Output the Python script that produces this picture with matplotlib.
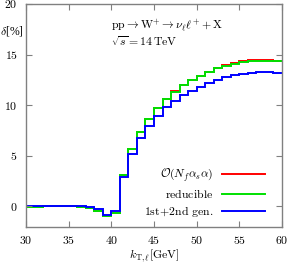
import numpy as np
from matplotlib import pyplot as plt

plt.rcParams['mathtext.fontset'] = 'cm'
plt.rcParams['font.family'] = 'serif'
plt.rcParams['font.serif'] = ['Liberation Serif', 'DejaVu Serif']

# bin edges (GeV) and corrections delta [%]
edges = np.arange(30, 61, 1)
red_vals = [-0.05, -0.03, 0.0, 0.02, 0.02, 0.0, -0.05, -0.2, -0.4, -0.95, -0.6,
            3.12, 5.70, 7.38, 8.66, 9.72, 10.62, 11.38, 11.97, 12.47, 12.92,
            13.32, 13.67, 13.94, 14.15, 14.32, 14.42, 14.44, 14.42, 14.39]
green_vals = [-0.05, -0.03, 0.0, 0.02, 0.02, 0.0, -0.05, -0.2, -0.4, -0.95, -0.6,
              3.1, 5.63, 7.32, 8.62, 9.7, 10.6, 11.35, 11.95, 12.45, 12.9,
              13.3, 13.65, 13.92, 14.12, 14.27, 14.37, 14.4, 14.4, 14.37]
blue_vals = [0.0, 0.02, 0.05, 0.06, 0.06, 0.05, 0.02, -0.1, -0.3, -0.88, -0.49,
             2.93, 5.17, 6.75, 7.9, 8.95, 9.81, 10.43, 11.0, 11.45, 11.85,
             12.2, 12.5, 12.77, 12.97, 13.1, 13.2, 13.27, 13.27, 13.23]
labels = [r'$\mathcal{O}(N_f\alpha_s\alpha)$', r'$\mathrm{reducible}$',
          r'$\mathrm{1st\!+\!2nd\ gen.}$']

fig = plt.figure(figsize=(2.89, 2.66), dpi=100)
ax = fig.add_axes([26/289, 1-226.7/266, 256/289, 222.7/266])

ax.stairs(red_vals, edges, color='#ff0000', lw=1.4, baseline=None, label=labels[0])
ax.stairs(green_vals, edges, color='#00e000', lw=1.4, baseline=None, label=labels[1])
ax.stairs(blue_vals, edges, color='#0000ff', lw=1.4, baseline=None, label=labels[2])

ax.set_xlim(30, 60)
ax.set_ylim(-2, 20)
ax.set_xticks(np.arange(30, 61, 5))
ax.set_yticks(np.arange(0, 21, 5))
ax.set_xticklabels(['$%d$' % v for v in range(30, 61, 5)])
ax.set_yticklabels(['$%d$' % v for v in range(0, 21, 5)])
ax.tick_params(direction='in', top=True, right=True, length=4, width=0.8,
               color='#808080', labelsize=8.5, pad=6)
for s in ax.spines.values():
    s.set_color('#808080')
    s.set_linewidth(1.0)

ax.text(40.0, 17.9, r'$\mathrm{pp}\rightarrow\mathrm{W}^{+}\rightarrow\nu_{\ell}\ell^{+}+\mathrm{X}$',
        fontsize=8.5, va='center', ha='left')
ax.text(40.0, 16.2, r'$\sqrt{s}=14\,\mathrm{TeV}$', fontsize=8.5, va='center', ha='left')

fig.text(12/289, 1-31/266, r'$\delta$[%]', fontsize=8.5, ha='center', va='center')
fig.text(154/289, 1-256/266, r'$k_{\mathrm{T},\ell}[\mathrm{GeV}]$', fontsize=8.5,
         ha='center', va='center')

leg = ax.legend(loc='lower right', bbox_to_anchor=(0.975, -0.015), frameon=False,
                fontsize=8.5, markerfirst=False, handlelength=3.6, handletextpad=0.8,
                labelspacing=0.3)
for t in leg.get_texts():
    t.set_ha('right')

plt.savefig('out.png', dpi=100)
